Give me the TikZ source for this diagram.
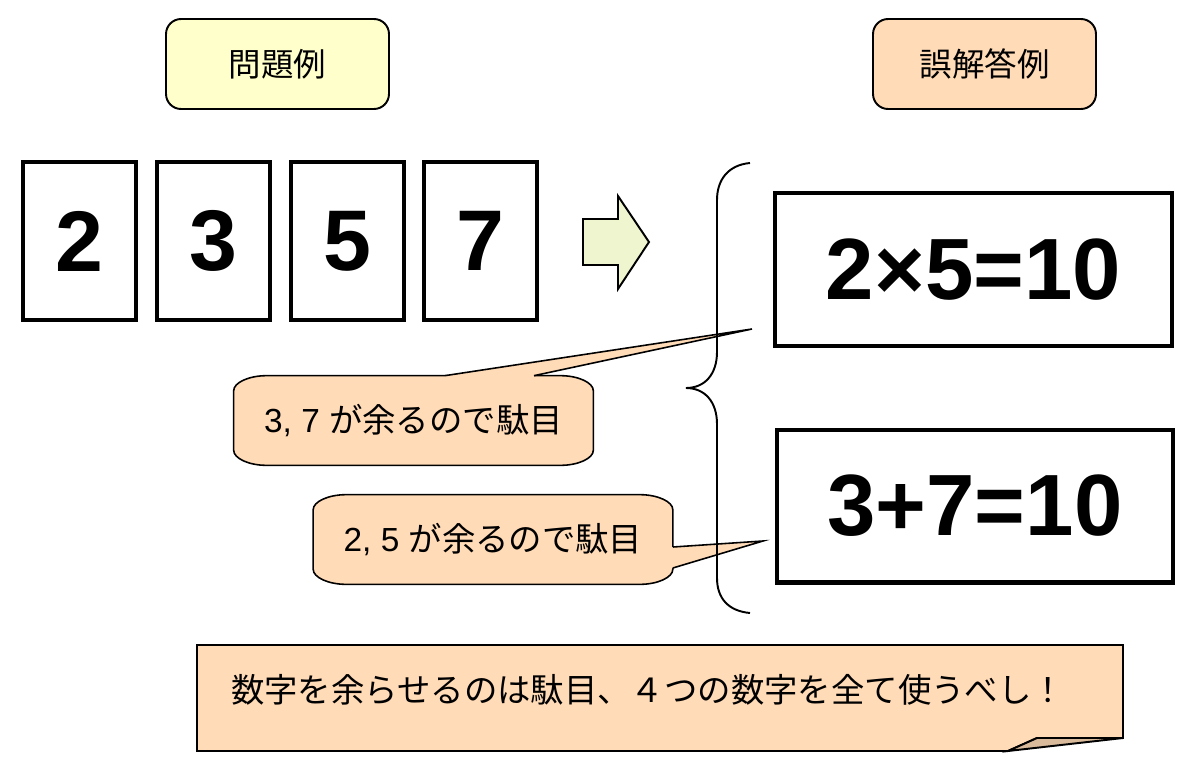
\documentclass[tikz,border=0pt]{standalone}
\usepackage{fontspec}
\setmainfont{Liberation Sans}
\newfontfamily\jp{Noto Sans CJK JP}
\usetikzlibrary{calc,backgrounds}
\definecolor{peach}{HTML}{FFDBB7}
\definecolor{probfill}{HTML}{FFFFCC}
\definecolor{arrowfill}{HTML}{EFF5CE}
\definecolor{foldfill}{HTML}{D9BA9A}

\begin{document}
\begin{tikzpicture}[
        x=0.02cm, y=-0.02cm,
        inner sep=0pt,
        tag/.style={draw, line width=1.1pt, rounded corners=0.3cm, minimum width=4.46cm, minimum height=1.8cm, font=\jp\fontsize{18.5}{20}\selectfont},
        card/.style={draw, line width=2.3pt, minimum width=2.26cm, minimum height=3.16cm, font=\bfseries\fontsize{49}{49}\selectfont},
        eqbox/.style={draw, line width=2.3pt, minimum width=7.94cm, minimum height=3.06cm, font=\bfseries\fontsize{49.5}{50}\selectfont},
        callout/.style={minimum width=7.18cm, minimum height=1.78cm, font=\fontsize{19}{20}\selectfont},
        thin line/.style={line width=0.9pt},
    ]
    \useasboundingbox (0,0) rectangle (1200,774);

    \node[tag, fill=probfill] (prob) at (277.5,64) {問題例};
    \node[tag, fill=peach] (wrong) at (984.5,64) {誤解答例};

    \foreach \d [count=\i] in {2,3,5,7}
        \node[card] (card\i) at ({79.5+133.8*(\i-1)},241) {\d};

    \draw[line width=1.1pt, fill=arrowfill, line join=miter] (583,219) -- (618,219) -- (618,196) -- (649,242) -- (618,289) -- (618,265) -- (583,265) -- cycle;

    \node[eqbox] (eq1) at (973.5,269.5) {2×5=10};
    \node[eqbox] (eq2) at (975,506) {3+7=10};

    \node[callout] (c1) at (413.5,420.5) {3, 7 {\jp が余るので駄目}};
    \node[callout] (c2) at (493,539.5) {2, 5 {\jp が余るので駄目}};
    \begin{scope}[on background layer]
        \foreach \c in {c1,c2}
            \draw[thin line, fill=peach] ($(\c.north west)+(33,0)$) -- ($(\c.north east)+(-33,0)$)
                .. controls +(18,0) and +(0,-8) .. ($(\c.north east)+(0,15)$) -- ($(\c.south east)+(0,-15)$)
                .. controls +(0,8) and +(18,0) .. ($(\c.south east)+(-33,0)$) -- ($(\c.south west)+(33,0)$)
                .. controls +(-18,0) and +(0,8) .. ($(\c.south west)+(0,-15)$) -- ($(\c.north west)+(0,15)$)
                .. controls +(0,-8) and +(-18,0) .. ($(\c.north west)+(33,0)$) -- cycle;
    \end{scope}
    \coordinate (t1) at (752,329);
    \coordinate (t2) at (763,541);
    \fill[peach] ($(c1.north)+(31.5,3)$) -- ($(c1.north)+(31.5,0)$) -- (t1) -- ($(c1.north)+(120.5,0)$) -- ($(c1.north)+(120.5,3)$) -- cycle;
    \draw[thin line] ($(c1.north)+(31.5,0)$) -- (t1) -- ($(c1.north)+(120.5,0)$);
    \fill[peach] ($(c2.east)+(-3,7.5)$) -- ($(c2.east)+(0,7.5)$) -- (t2) -- ($(c2.east)+(0,28.5)$) -- ($(c2.east)+(-3,28.5)$) -- cycle;
    \draw[thin line] ($(c2.east)+(0,7.5)$) -- (t2) -- ($(c2.east)+(0,28.5)$);

    \draw[line width=1.1pt] (750,163) .. controls (728,165) and (717,180) .. (717,200) -- (717,352) .. controls (717,374) and (705,388) .. (686,388) .. controls (705,388) and (717,402) .. (717,424) -- (717,578) .. controls (717,598) and (728,611) .. (750,613);

    \draw[line width=1.1pt, fill=peach, line join=miter] (197,645) -- (1123,645) -- (1123,738) -- (1037,738) -- (1008,751) -- (197,751) -- cycle;
    \draw[line width=1.1pt, fill=foldfill, line join=miter] (1008,751) -- (1037,738) -- (1123,738) -- cycle;
    \node[font=\jp\fontsize{19}{20}\selectfont] (rule) at (648,690) {数字を余らせるのは駄目、４つの数字を全て使うべし！};
\end{tikzpicture}
\end{document}
